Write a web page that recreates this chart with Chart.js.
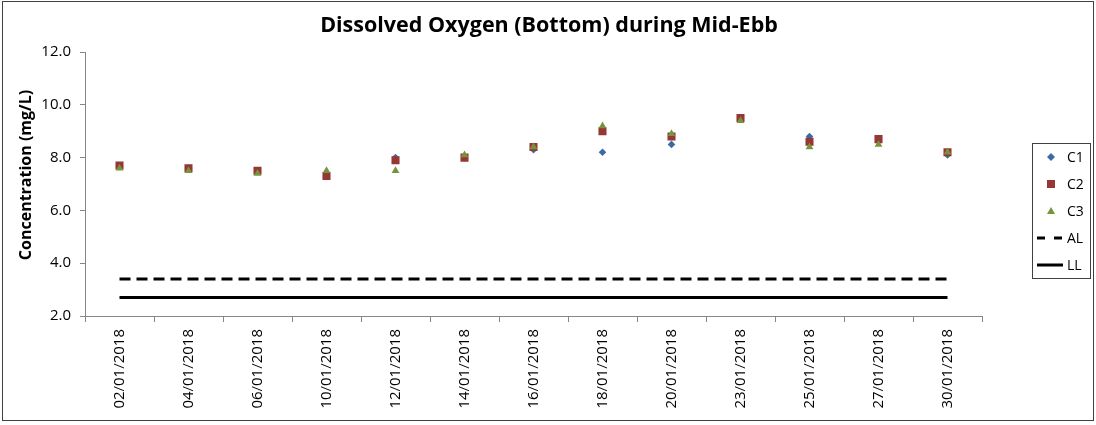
<!DOCTYPE html>
<html>
<head>
<meta charset="utf-8">
<script src="https://cdn.jsdelivr.net/npm/chart.js@4.4.1/dist/chart.umd.min.js"></script>
<style>
    html, body { margin: 0; padding: 0; background: #fff; }
    #wrap { width: 1096px; height: 425px; }
</style>
</head>
<body>
<div id="wrap"><canvas id="chart" width="1096" height="425"></canvas></div>
<script>
// --- Data ---
const dates = ["02/01/2018", "04/01/2018", "06/01/2018", "10/01/2018", "12/01/2018", "14/01/2018", "16/01/2018",
               "18/01/2018", "20/01/2018", "23/01/2018", "25/01/2018", "27/01/2018", "30/01/2018"];
const c1 = [7.7, 7.6, 7.5, 7.3, 8.0, 8.0, 8.3, 8.2, 8.5, 9.5, 8.8, 8.7, 8.1];
const c2 = [7.7, 7.6, 7.5, 7.3, 7.9, 8.0, 8.4, 9.0, 8.8, 9.5, 8.6, 8.7, 8.2];
const c3 = [7.6, 7.5, 7.4, 7.5, 7.5, 8.1, 8.4, 9.2, 8.9, 9.4, 8.4, 8.5, 8.2];
const actionLevel = [3.4, 3.4, 3.4, 3.4, 3.4, 3.4, 3.4, 3.4, 3.4, 3.4, 3.4, 3.4, 3.4];
const limitLevel = [2.7, 2.7, 2.7, 2.7, 2.7, 2.7, 2.7, 2.7, 2.7, 2.7, 2.7, 2.7, 2.7];
const yMin = 2, yMax = 12, yStep = 2;

const FONT = "'Open Sans', 'Liberation Sans', sans-serif";
const AXIS = "#868686";
const COL = { c1: "#3D6AA6", c2: "#953735", c3: "#77933C" };

// --- Title, axis title, frame and legend drawn on top of the chart ---
const frame = {
    id: "frame",
    beforeDraw(chart) {
        const ctx = chart.ctx;
        ctx.save();
        ctx.fillStyle = "#fff";
        ctx.fillRect(0, 0, chart.width, chart.height);
        ctx.restore();
    },
    afterDraw(chart) {
        const ctx = chart.ctx;
        ctx.save();
        ctx.strokeStyle = "#404040";
        ctx.lineWidth = 1;
        ctx.strokeRect(2.5, 1.5, 1091, 419);

        ctx.fillStyle = "#000";
        ctx.font = `bold 21.5px ${FONT}`;
        ctx.textAlign = "center";
        ctx.textBaseline = "middle";
        ctx.fillText("Dissolved Oxygen (Bottom) during Mid-Ebb", 549, 26);

        // y axis title
        ctx.save();
        ctx.translate(26, 175);
        ctx.rotate(-Math.PI / 2);
        ctx.font = `bold 16px ${FONT}`;
        ctx.fillText("Concentration (mg/L)", 0, 0);
        ctx.restore();

        // legend
        ctx.strokeRect(1032.5, 143.5, 58, 135);
        const sx = 1051, tx = 1067;
        const rows = [157, 184, 211, 238, 265];
        ctx.fillStyle = COL.c1;
        ctx.beginPath();
        ctx.moveTo(sx, rows[0] - 4); ctx.lineTo(sx + 4, rows[0]); ctx.lineTo(sx, rows[0] + 4); ctx.lineTo(sx - 4, rows[0]);
        ctx.fill();
        ctx.fillStyle = COL.c2;
        ctx.fillRect(sx - 4, rows[1] - 4, 8, 8);
        ctx.fillStyle = COL.c3;
        ctx.beginPath();
        ctx.moveTo(sx, rows[2] - 4); ctx.lineTo(sx + 4, rows[2] + 3); ctx.lineTo(sx - 4, rows[2] + 3);
        ctx.fill();
        ctx.strokeStyle = "#000";
        ctx.lineWidth = 3;
        ctx.setLineDash([8, 9]);
        ctx.beginPath(); ctx.moveTo(1037, rows[3]); ctx.lineTo(1063, rows[3]); ctx.stroke();
        ctx.setLineDash([]);
        ctx.beginPath(); ctx.moveTo(1037, rows[4]); ctx.lineTo(1063, rows[4]); ctx.stroke();

        ctx.fillStyle = "#000";
        ctx.font = `14px ${FONT}`;
        ctx.textAlign = "left";
        ["C1", "C2", "C3", "AL", "LL"].forEach((t, i) => ctx.fillText(t, tx, rows[i] + 1));
        ctx.restore();
    }
};

function markers(label, data, color, style, radius, order) {
    return {
        label, data, order,
        showLine: false,
        pointStyle: style,
        pointRadius: radius,
        pointBorderWidth: 0,
        pointBackgroundColor: color,
        borderColor: color,
    };
}

function level(label, data, dash, order) {
    return {
        label, data, order,
        borderColor: "#000",
        borderWidth: 3,
        borderDash: dash,
        pointRadius: 0,
        fill: false,
    };
}

new Chart(document.getElementById("chart"), {
    type: "line",
    data: {
        labels: dates,
        datasets: [
            markers("C1", c1, COL.c1, "rectRot", 3.8, 3),
            markers("C2", c2, COL.c2, "rect", 5.7, 2),
            markers("C3", c3, COL.c3, "triangle", 4.5, 1),
            level("AL", actionLevel, [11, 6], 4),
            level("LL", limitLevel, [], 5),
        ]
    },
    options: {
        responsive: false,
        animation: false,
        events: [],
        layout: { padding: { top: 52, right: 114, bottom: 0, left: 0 } },
        plugins: { legend: { display: false }, title: { display: false }, tooltip: { enabled: false } },
        scales: {
            x: {
                offset: true,
                grid: { offset: true, drawOnChartArea: false, tickLength: 6, color: AXIS },
                border: { color: AXIS },
                ticks: { minRotation: 90, maxRotation: 90, autoSkip: false, padding: 7, color: "#000", font: { family: FONT, size: 15 } },
                afterFit: s => { s.height = 109; }
            },
            y: {
                min: yMin, max: yMax,
                grid: { drawOnChartArea: false, tickLength: 5, color: AXIS },
                border: { color: AXIS },
                ticks: { stepSize: yStep, padding: 9, color: "#000", font: { family: FONT, size: 15 }, callback: v => v.toFixed(1) },
                title: { display: false },
                afterFit: s => { s.width = 85; }
            }
        }
    },
    plugins: [frame]
});
</script>
</body>
</html>
